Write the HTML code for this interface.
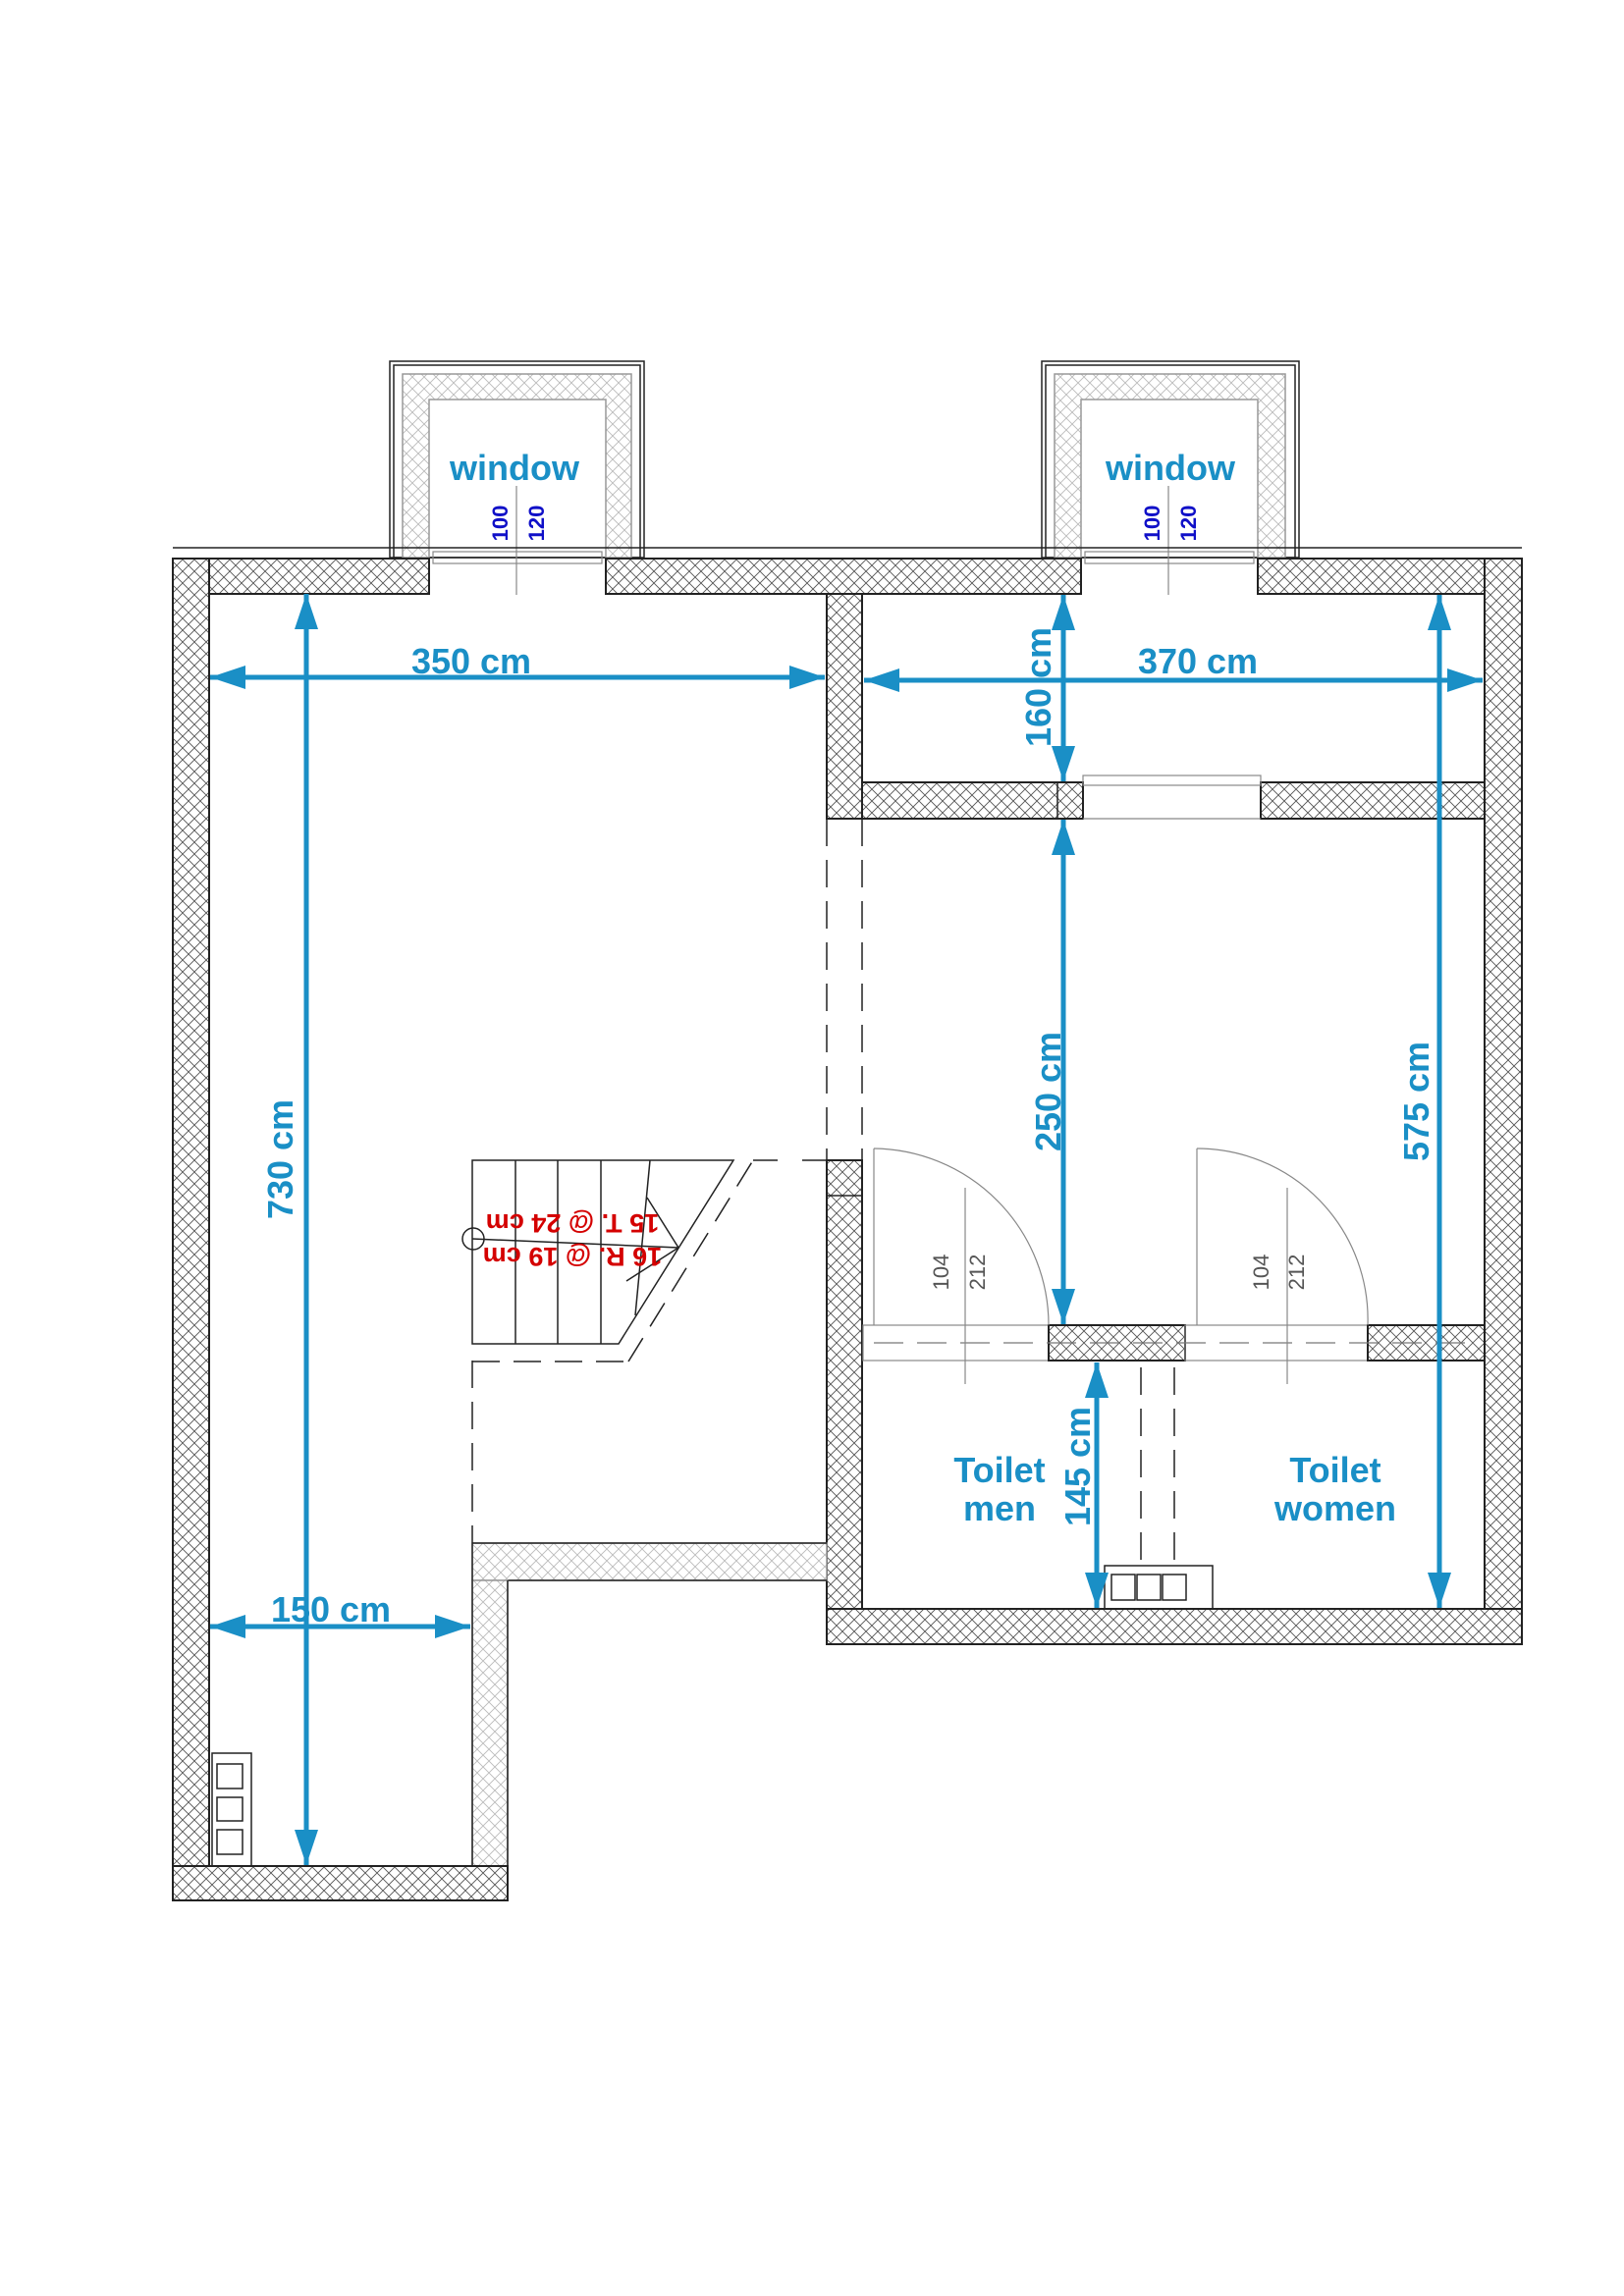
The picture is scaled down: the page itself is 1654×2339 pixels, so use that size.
<!DOCTYPE html>
<html><head><meta charset="utf-8"><style>
html,body{margin:0;padding:0;background:#fff}
svg{display:block}
.d{stroke:#1a8fc6;stroke-width:5;fill:none}
.dt{fill:#1a8fc6;font-family:"Liberation Sans",sans-serif;font-weight:bold;font-size:36px;text-anchor:middle}
.w{stroke:#222;stroke-width:2;fill:url(#h)}
.wl{stroke:#999;stroke-width:1.5;fill:url(#hl)}
.t{stroke:#222;stroke-width:1.5;fill:none}
.g{stroke:#888;stroke-width:1.2;fill:none}
.ds{stroke:#222;stroke-width:1.5;fill:none;stroke-dasharray:28 14}
</style></head><body>
<svg width="1654" height="2339" viewBox="0 0 1654 2339" xmlns="http://www.w3.org/2000/svg">
<defs>
<pattern id="h" width="12" height="12" patternUnits="userSpaceOnUse">
<rect width="12" height="12" fill="#fff"/>
<path d="M0,0L12,12M12,0L0,12" stroke="#555" stroke-width="0.9"/>
</pattern>
<pattern id="hl" width="12" height="12" patternUnits="userSpaceOnUse">
<rect width="12" height="12" fill="#fff"/>
<path d="M0,0L12,12M12,0L0,12" stroke="#bbb" stroke-width="0.9"/>
</pattern>
<marker id="a" viewBox="0 0 36 24" refX="36" refY="12" markerWidth="36" markerHeight="24" orient="auto-start-reverse" markerUnits="userSpaceOnUse"><path d="M0,0L36,12L0,24z" fill="#1a8fc6"/></marker>
</defs>

<!-- window bays -->
<g>
<rect x="397" y="368" width="259" height="200" class="t"/>
<rect x="401" y="372" width="251" height="196" class="t"/>
<path d="M410,568V381H643V568H617V407H437V568Z" class="wl"/>
<line x1="526" y1="495" x2="526" y2="606" class="g"/>
<rect x="441" y="562" width="172" height="12" class="g"/>
<rect x="1061" y="368" width="262" height="200" class="t"/>
<rect x="1065" y="372" width="254" height="196" class="t"/>
<path d="M1074,568V381H1309V568H1281V407H1101V568Z" class="wl"/>
<line x1="1190" y1="495" x2="1190" y2="606" class="g"/>
<rect x="1105" y="562" width="172" height="12" class="g"/>
</g>

<!-- outer line top -->
<line x1="176" y1="558" x2="1550" y2="558" class="t"/>
<!-- top wall -->
<rect x="176" y="569" width="261" height="36" class="w"/>
<rect x="617" y="569" width="484" height="36" class="w"/>
<rect x="1281" y="569" width="269" height="36" class="w"/>
<!-- left wall -->
<rect x="176" y="569" width="37" height="1367" class="w"/>
<!-- right wall -->
<rect x="1512" y="569" width="38" height="1106" class="w"/>
<!-- middle wall upper -->
<rect x="842" y="605" width="36" height="229" class="w"/>
<!-- upper partition -->
<rect x="878" y="797" width="225" height="37" class="w"/>
<line x1="1077" y1="797" x2="1077" y2="834" class="t"/>
<rect x="1284" y="797" width="228" height="37" class="w"/>
<rect x="1103" y="790" width="181" height="10" class="g"/>
<line x1="1103" y1="834" x2="1284" y2="834" class="g"/>
<!-- dashed middle wall -->
<line x1="842" y1="834" x2="842" y2="1182" class="ds"/>
<line x1="878" y1="834" x2="878" y2="1182" class="ds"/>
<!-- middle wall lower -->
<rect x="842" y="1182" width="36" height="493" class="w"/>
<line x1="842" y1="1218" x2="878" y2="1218" class="t"/>
<!-- bottom wall right room -->
<rect x="842" y="1639" width="708" height="36" class="w"/>
<!-- toilets partition -->
<rect x="879" y="1350" width="189" height="36" class="g"/>
<rect x="1068" y="1350" width="139" height="36" class="w"/>
<rect x="1207" y="1350" width="186" height="36" class="g"/>
<rect x="1393" y="1350" width="119" height="36" class="w"/>
<line x1="890" y1="1368" x2="1505" y2="1368" stroke="#777" stroke-width="1.2" stroke-dasharray="30 14"/>
<!-- doors -->
<line x1="890" y1="1170" x2="890" y2="1350" class="g"/>
<path d="M890,1170A180,180 0 0 1 1068,1350" class="g"/>
<line x1="983" y1="1210" x2="983" y2="1410" class="g"/>
<line x1="1219" y1="1170" x2="1219" y2="1350" class="g"/>
<path d="M1219,1170A174,174 0 0 1 1393,1350" class="g"/>
<line x1="1311" y1="1210" x2="1311" y2="1410" class="g"/>
<g font-family="Liberation Sans,sans-serif" font-size="22" fill="#555" text-anchor="middle">
<text transform="translate(966,1296) rotate(-90)">104</text>
<text transform="translate(1003,1296) rotate(-90)">212</text>
<text transform="translate(1292,1296) rotate(-90)">104</text>
<text transform="translate(1328,1296) rotate(-90)">212</text>
</g>
<!-- toilet dashed pipes & box -->
<line x1="1162" y1="1393" x2="1162" y2="1590" class="ds"/>
<line x1="1196" y1="1393" x2="1196" y2="1590" class="ds"/>
<rect x="1125" y="1595" width="110" height="44" class="t"/>
<rect x="1132" y="1604" width="24" height="26" class="t"/>
<rect x="1158" y="1604" width="24" height="26" class="t"/>
<rect x="1184" y="1604" width="24" height="26" class="t"/>

<!-- lower-left corridor walls -->
<rect x="481" y="1572" width="361" height="38" class="wl"/>
<line x1="481" y1="1572" x2="842" y2="1572" class="t"/>
<line x1="517" y1="1610" x2="842" y2="1610" class="t"/>
<rect x="481" y="1610" width="36" height="326" class="wl"/>
<line x1="481" y1="1572" x2="481" y2="1901" class="t"/>
<line x1="517" y1="1610" x2="517" y2="1936" class="t"/>
<rect x="176" y="1901" width="341" height="35" class="w"/>
<line x1="481" y1="1386" x2="481" y2="1572" class="ds"/>
<!-- left box -->
<rect x="216" y="1786" width="40" height="115" class="t"/>
<rect x="221" y="1797" width="26" height="25" class="t"/>
<rect x="221" y="1831" width="26" height="24" class="t"/>
<rect x="221" y="1864" width="26" height="25" class="t"/>

<!-- stairs -->
<path d="M747,1182H481V1369H630Z" class="t"/>
<line x1="525" y1="1182" x2="525" y2="1369" class="t"/>
<line x1="568" y1="1182" x2="568" y2="1369" class="t"/>
<line x1="612" y1="1182" x2="612" y2="1369" class="t"/>
<line x1="662" y1="1182" x2="647" y2="1340" class="t"/>
<line x1="691" y1="1271" x2="659" y2="1220" class="t"/>
<line x1="691" y1="1271" x2="481" y2="1262" class="t"/>
<line x1="691" y1="1271" x2="638" y2="1305" class="t"/>
<circle cx="482" cy="1262" r="11" class="t"/>
<line x1="640" y1="1387" x2="767" y2="1182" class="ds"/>
<line x1="481" y1="1387" x2="640" y2="1387" class="ds"/>
<line x1="767" y1="1182" x2="792" y2="1182" class="t"/>
<line x1="817" y1="1182" x2="842" y2="1182" class="t"/>
<g fill="#d40000" font-family="Liberation Sans,sans-serif" font-weight="bold" font-size="27" text-anchor="middle">
<text transform="translate(583,1237) rotate(180)">15 T. @ 24 cm</text>
<text transform="translate(583,1271) rotate(180)">16 R. @ 19 cm</text>
</g>

<!-- window labels -->
<text x="524" y="489" class="dt" font-size="36">window</text>
<text x="1192" y="489" class="dt" font-size="36">window</text>
<g fill="#1010c8" font-family="Liberation Sans,sans-serif" font-weight="bold" font-size="22" text-anchor="middle">
<text transform="translate(517,533) rotate(-90)">100</text>
<text transform="translate(554,533) rotate(-90)">120</text>
<text transform="translate(1181,533) rotate(-90)">100</text>
<text transform="translate(1218,533) rotate(-90)">120</text>
</g>

<!-- dimensions -->
<line x1="214" y1="690" x2="840" y2="690" class="d" marker-start="url(#a)" marker-end="url(#a)"/>
<text x="480" y="686" class="dt">350 cm</text>
<line x1="880" y1="693" x2="1510" y2="693" class="d" marker-start="url(#a)" marker-end="url(#a)"/>
<text x="1220" y="686" class="dt">370 cm</text>
<line x1="312" y1="605" x2="312" y2="1900" class="d" marker-start="url(#a)" marker-end="url(#a)"/>
<text transform="translate(298,1181) rotate(-90)" class="dt">730 cm</text>
<line x1="1083" y1="606" x2="1083" y2="796" class="d" marker-start="url(#a)" marker-end="url(#a)"/>
<text transform="translate(1070,700) rotate(-90)" class="dt">160 cm</text>
<line x1="1083" y1="835" x2="1083" y2="1349" class="d" marker-start="url(#a)" marker-end="url(#a)"/>
<text transform="translate(1080,1112) rotate(-90)" class="dt">250 cm</text>
<line x1="1466" y1="606" x2="1466" y2="1638" class="d" marker-start="url(#a)" marker-end="url(#a)"/>
<text transform="translate(1455,1122) rotate(-90)" class="dt">575 cm</text>
<line x1="1117" y1="1388" x2="1117" y2="1638" class="d" marker-start="url(#a)" marker-end="url(#a)"/>
<text transform="translate(1110,1494) rotate(-90)" class="dt">145 cm</text>
<line x1="214" y1="1657" x2="479" y2="1657" class="d" marker-start="url(#a)" marker-end="url(#a)"/>
<text x="337" y="1652" class="dt">150 cm</text>
<text x="1018" y="1510" class="dt">Toilet</text>
<text x="1018" y="1549" class="dt">men</text>
<text x="1360" y="1510" class="dt">Toilet</text>
<text x="1360" y="1549" class="dt">women</text>
</svg>
</body></html>
